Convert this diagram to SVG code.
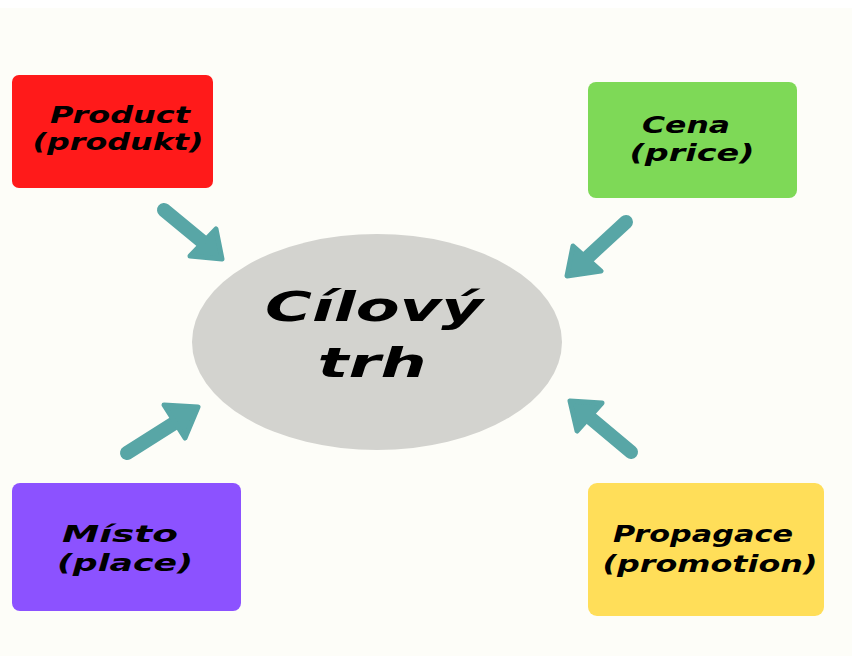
<svg xmlns="http://www.w3.org/2000/svg" width="852" height="656" viewBox="0 0 852 656">
<defs>
<style>
.lbl{font-family:"DejaVu Sans","Liberation Sans",sans-serif;font-style:oblique;font-weight:bold;fill:#000;text-anchor:middle}
.sm{font-size:23px}
.big{font-size:40px}
.shaft{stroke:#58a6a6;stroke-width:14;stroke-linecap:round;fill:none}
.head{fill:#58a6a6;stroke:#58a6a6;stroke-width:5;stroke-linejoin:round}
</style>
</defs>
<rect x="0" y="0" width="852" height="656" fill="#fdfdf8"/>
<rect x="0" y="0" width="852" height="8" fill="#ffffff"/>
<g id="connectors">
<line class="shaft" x1="164" y1="210" x2="204" y2="243"/>
<polygon class="head" points="222,259 190,256 216,229"/>
<line class="shaft" x1="626" y1="222" x2="587" y2="258"/>
<polygon class="head" points="567,276 573,246 601,271"/>
<line class="shaft" x1="127" y1="453" x2="176" y2="422"/>
<polygon class="head" points="198,407 164,405 185,438"/>
<line class="shaft" x1="631" y1="452" x2="588" y2="416"/>
<polygon class="head" points="570,401 602,403 577,431"/>
</g>
<g id="target">
<ellipse cx="377" cy="342" rx="185" ry="108" fill="#d3d3cf"/>
<text class="lbl big" x="374" y="321" textLength="218" lengthAdjust="spacingAndGlyphs">Cílový</text>
<text class="lbl big" x="372" y="377" textLength="109" lengthAdjust="spacingAndGlyphs">trh</text>
</g>
<g id="product">
<rect x="12" y="75" width="201" height="113" rx="7" fill="#ff1a1a"/>
<text class="lbl sm" x="120" y="123" textLength="140" lengthAdjust="spacingAndGlyphs">Product</text>
<text class="lbl sm" x="118" y="150" textLength="171" lengthAdjust="spacingAndGlyphs">(produkt)</text>
</g>
<g id="price">
<rect x="588" y="82" width="209" height="116" rx="8" fill="#7ed957"/>
<text class="lbl sm" x="686" y="133" textLength="88" lengthAdjust="spacingAndGlyphs">Cena</text>
<text class="lbl sm" x="692" y="161" textLength="125" lengthAdjust="spacingAndGlyphs">(price)</text>
</g>
<g id="place">
<rect x="12" y="483" width="229" height="128" rx="8" fill="#8c52ff"/>
<text class="lbl sm" x="120" y="542" textLength="116" lengthAdjust="spacingAndGlyphs">Místo</text>
<text class="lbl sm" x="125" y="571" textLength="136" lengthAdjust="spacingAndGlyphs">(place)</text>
</g>
<g id="promotion">
<rect x="588" y="483" width="236" height="133" rx="9" fill="#ffde59"/>
<text class="lbl sm" x="703" y="542" textLength="180" lengthAdjust="spacingAndGlyphs">Propagace</text>
<text class="lbl sm" x="710" y="572" textLength="215" lengthAdjust="spacingAndGlyphs">(promotion)</text>
</g>
</svg>
